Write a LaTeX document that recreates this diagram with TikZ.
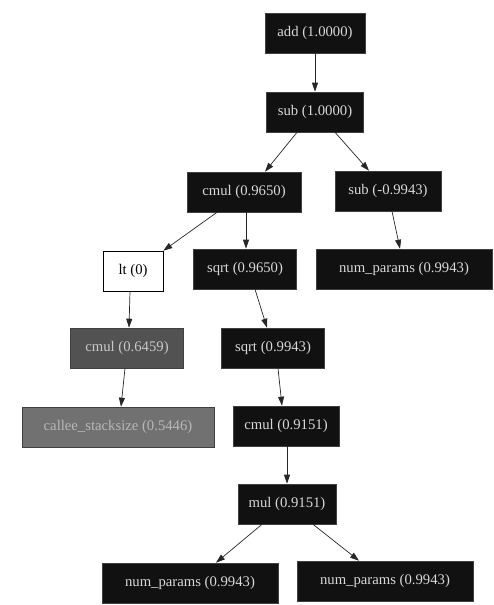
\documentclass[tikz,border=0pt]{standalone}
\usepackage{fontspec}
\setmainfont{Liberation Serif}
\newfontfamily\gvfont{Liberation Serif}
\usetikzlibrary{arrows.meta}
\definecolor{darkfill}{HTML}{111111}
\definecolor{darktext}{HTML}{D8D8D8}
\definecolor{midfill}{HTML}{525252}
\definecolor{midtext}{HTML}{C8C8C8}
\definecolor{lightfill}{HTML}{717171}
\definecolor{lighttext}{HTML}{B8B8B8}
\tikzset{
  gbox/.style={rectangle, draw=black!75, line width=0.6pt, minimum height=40pt, inner sep=0pt,
    font=\gvfont\fontsize{14.7}{16}\selectfont},
  darkbox/.style={gbox, fill=darkfill, text=darktext},
  midbox/.style={gbox, fill=midfill, text=midtext},
  lightbox/.style={gbox, fill=lightfill, text=lighttext},
  whitebox/.style={gbox, fill=white, text=black, draw=black},
  edge/.style={draw=black!85, line width=0.7pt, -{Triangle[length=9pt,width=6pt]}}
}
\begin{document}
\begin{tikzpicture}[x=1pt,y=-1pt]
\useasboundingbox (0,0) rectangle (493,605);
\node[darkbox, minimum width=100pt] (add) at (315,33) {add (1.0000)};
\node[darkbox, minimum width=97pt] (sub) at (315,112) {sub (1.0000)};
\node[darkbox, minimum width=114pt] (cmulA) at (244,192) {cmul (0.9650)};
\node[darkbox, minimum width=106pt] (subB) at (388,191) {sub (-0.9943)};
\node[whitebox, minimum width=60pt] (lt) at (133,271) {lt (0)};
\node[darkbox, minimum width=103pt] (sqrtA) at (245,269) {sqrt (0.9650)};
\node[darkbox, minimum width=176pt] (numA) at (404,269) {num\_params (0.9943)};
\node[midbox, minimum width=113pt] (cmulB) at (127,348) {cmul (0.6459)};
\node[darkbox, minimum width=103pt] (sqrtB) at (273,348) {sqrt (0.9943)};
\node[lightbox, minimum width=192pt] (callee) at (118,427) {callee\_stacksize (0.5446)};
\node[darkbox, minimum width=106pt] (cmulC) at (286,426) {cmul (0.9151)};
\node[darkbox, minimum width=98pt] (mul) at (287,504) {mul (0.9151)};
\node[darkbox, minimum width=176pt] (numB) at (190,583) {num\_params (0.9943)};
\node[darkbox, minimum width=176pt] (numC) at (385,581) {num\_params (0.9943)};

\draw[edge] (add.south) -- (sub.north);
\draw[edge] ([xshift=-18pt]sub.south) -- ([xshift=21pt]cmulA.north);
\draw[edge] ([xshift=20pt]sub.south) -- ([xshift=-19pt]subB.north);
\draw[edge] ([xshift=-27pt]cmulA.south) -- (lt.north east);
\draw[edge] ([xshift=2pt]cmulA.south) -- ([xshift=1pt]sqrtA.north);
\draw[edge] ([xshift=4pt]subB.south) -- ([xshift=-4pt]numA.north);
\draw[edge] ([xshift=-3pt]lt.south) -- ([xshift=2pt]cmulB.north);
\draw[edge] ([xshift=10pt]sqrtA.south) -- ([xshift=-6pt]sqrtB.north);
\draw[edge] ([xshift=-2pt]cmulB.south) -- ([xshift=3pt]callee.north);
\draw[edge] ([xshift=5pt]sqrtB.south) -- ([xshift=-4pt]cmulC.north);
\draw[edge] ([xshift=1pt]cmulC.south) -- (mul.north);
\draw[edge] ([xshift=-25pt]mul.south) -- ([xshift=26pt]numB.north);
\draw[edge] ([xshift=26pt]mul.south) -- ([xshift=-26pt]numC.north);
\end{tikzpicture}
\end{document}
